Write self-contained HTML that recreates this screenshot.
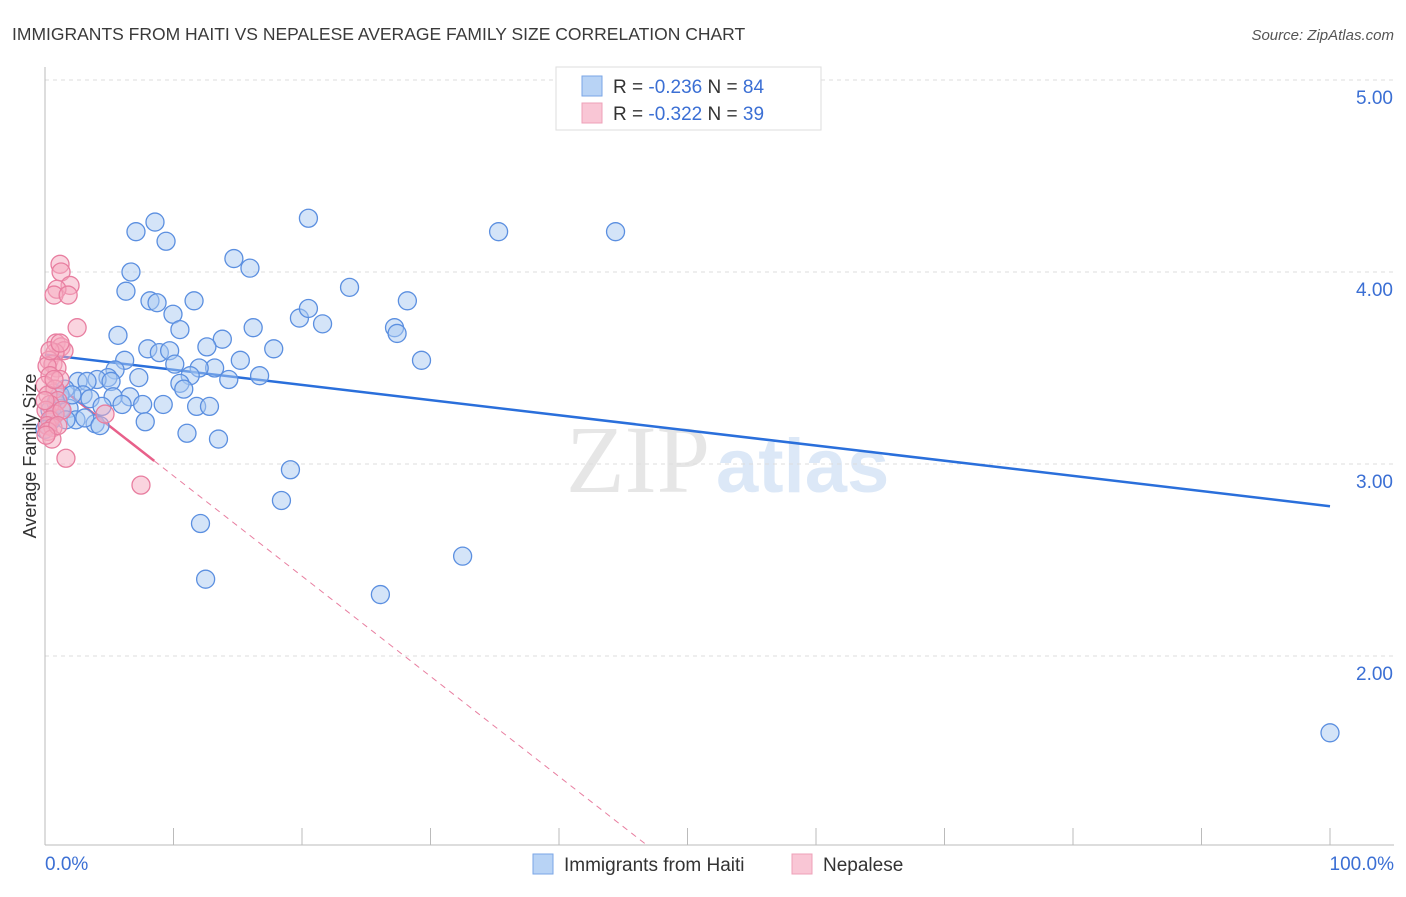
<!DOCTYPE html>
<html><head><meta charset="utf-8"><style>
body{margin:0;background:#fff;font-family:"Liberation Sans",sans-serif}
</style></head><body>
<svg width="1406" height="892" viewBox="0 0 1406 892" id="chart">
<text x="12" y="40" font-size="17.5" fill="#3a3a3a">IMMIGRANTS FROM HAITI VS NEPALESE AVERAGE FAMILY SIZE CORRELATION CHART</text>
<text x="1394" y="40" font-size="15" fill="#555" font-style="italic" text-anchor="end">Source: ZipAtlas.com</text>
<text x="710" y="492" font-size="96" fill="#e6e6e6" text-anchor="end" font-family="Liberation Serif,serif">ZIP</text>
<text x="716" y="492" font-size="76" fill="#dce8f7" font-weight="bold">atlas</text>
<g id="grid"></g><g id="axes"></g><g id="lines"></g><g id="pts"></g>
<text x="36" y="456" font-size="18" fill="#333" text-anchor="middle" transform="rotate(-90 36 456)">Average Family Size</text>
<text x="45" y="870" font-size="19" fill="#3b6fd4">0.0%</text>
<text x="1394" y="870" font-size="19" fill="#3b6fd4" text-anchor="end">100.0%</text>
<g>
<rect x="556" y="67" width="265" height="63" fill="#fff" stroke="#ddd"/>
<rect x="582" y="76" width="20" height="20" fill="#b8d3f5" stroke="#7aa6e6"/>
<rect x="582" y="103" width="20" height="20" fill="#f9c6d5" stroke="#eea0b8"/>
<text x="613" y="93" font-size="19" fill="#333">R = <tspan fill="#3b6fd4">-0.236</tspan>   N = <tspan fill="#3b6fd4">84</tspan></text>
<text x="613" y="120" font-size="19" fill="#333">R = <tspan fill="#3b6fd4">-0.322</tspan>   N = <tspan fill="#3b6fd4">39</tspan></text>
</g>
<g>
<rect x="533" y="854" width="20" height="20" fill="#b8d3f5" stroke="#7aa6e6"/>
<text x="564" y="871" font-size="19" fill="#333">Immigrants from Haiti</text>
<rect x="792" y="854" width="20" height="20" fill="#f9c6d5" stroke="#eea0b8"/>
<text x="823" y="871" font-size="19" fill="#333">Nepalese</text>
</g>
</svg>
<script>
const yTicks=[2,3,4,5];
const yTickLabels=["2.00","3.00","4.00","5.00"];
const haitiX=[8.56,7.08,9.42,20.5,35.3,44.4,14.7,6.69,15.95,6.3,8.17,8.72,11.6,9.96,10.5,5.68,19.8,20.5,21.6,23.7,28.2,27.2,27.4,16.2,13.8,12.6,8.0,8.9,9.7,6.2,17.8,15.2,29.3,10.1,13.2,12.0,5.45,7.3,11.3,16.7,14.3,10.5,4.9,4.05,2.57,3.27,5.14,10.8,1.56,2.96,3.5,6.6,5.3,0.39,0.86,1.25,1.87,4.44,6.0,7.6,9.2,11.8,12.8,0.54,2.41,3.9,3.1,7.8,11.05,13.5,19.1,18.4,12.1,32.5,12.5,26.1,100,1.17,0.23,0.78,2.1,4.28,0,1.63];
const haitiY=[4.26,4.21,4.16,4.28,4.21,4.21,4.07,4.0,4.02,3.9,3.85,3.84,3.85,3.78,3.7,3.67,3.76,3.81,3.73,3.92,3.85,3.71,3.68,3.71,3.65,3.61,3.6,3.58,3.59,3.54,3.6,3.54,3.54,3.52,3.5,3.5,3.49,3.45,3.46,3.46,3.44,3.42,3.45,3.44,3.43,3.43,3.43,3.39,3.39,3.36,3.34,3.35,3.35,3.28,3.32,3.29,3.29,3.3,3.31,3.31,3.31,3.3,3.3,3.23,3.23,3.21,3.24,3.22,3.16,3.13,2.97,2.81,2.69,2.52,2.4,2.32,1.6,3.36,3.2,3.26,3.36,3.2,3.18,3.23];
const nepX=[1.17,1.25,1.95,0.93,0.7,1.8,2.5,0.86,1.25,1.48,0.78,0.31,0.62,0.93,0.16,0.39,1.17,0,0.78,0.23,1.0,0.39,0.08,0.78,0.39,0.16,0.62,0.23,0.54,1.63,7.47,4.67,1.32,0,1.0,0.39,1.17,0.08,0.7];
const nepY=[4.04,4.0,3.93,3.91,3.88,3.88,3.71,3.63,3.61,3.59,3.58,3.54,3.52,3.5,3.51,3.46,3.44,3.41,3.39,3.36,3.33,3.31,3.28,3.26,3.23,3.2,3.19,3.17,3.13,3.03,2.89,3.26,3.28,3.33,3.2,3.59,3.63,3.15,3.44];
const haitiTrend=[3.57,2.78];
const nepTrend=[3.46,-0.0522];
const NS="http://www.w3.org/2000/svg";
const sx=v=>45+v*12.85, sy=v=>80+(5-v)*192;
function mk(t,a,p){const e=document.createElementNS(NS,t);for(const k in a)e.setAttribute(k,a[k]);document.getElementById(p).appendChild(e);return e;}
yTicks.forEach((t,i)=>{
 const g=mk('line',{x1:45,x2:1394,y1:sy(t),y2:sy(t),stroke:'#ddd','stroke-dasharray':'4 4'},'grid');
 
 
 const l=mk('text',{x:1393,y:sy(t)+24,'font-size':19,fill:'#3b6fd4','text-anchor':'end'},'grid');
 l.textContent=yTickLabels[i];
 
 
});
mk('line',{x1:45,x2:45,y1:67,y2:845,stroke:'#bbb'},'axes');
mk('line',{x1:45,x2:1394,y1:845,y2:845,stroke:'#bbb'},'axes');
for(let i=0;i<=10;i++){const t=mk('line',{x1:sx(i*10),x2:sx(i*10),y1:828,y2:845,stroke:'#bbb'},'axes');
 
 }
function dot(x,y,f,s,n){const c=mk('circle',{cx:sx(x),cy:sy(y),r:9,fill:f,'fill-opacity':0.5,stroke:s,'stroke-width':1.3},'pts');
 
 }
haitiX.forEach((x,i)=>dot(x,haitiY[i],'#a9c9f2','#5b8fe0','haiti-point'));
nepX.forEach((x,i)=>dot(x,nepY[i],'#f5a9c0','#e87ea0','nepalese-point'));
const bl=mk('line',{x1:sx(0),y1:sy(haitiTrend[0]),x2:sx(100),y2:sy(haitiTrend[1]),stroke:'#2a6fdb','stroke-width':2.5},'lines');


const pv=x=>nepTrend[0]+nepTrend[1]*x;
const xEnd=(1.02-nepTrend[0])/nepTrend[1];
const pd=mk('line',{x1:sx(8.5),y1:sy(pv(8.5)),x2:sx(xEnd),y2:sy(pv(xEnd)),stroke:'#e87ea0','stroke-width':1,'stroke-dasharray':'6 5'},'lines');


const ps=mk('line',{x1:sx(0),y1:sy(pv(0)),x2:sx(8.5),y2:sy(pv(8.5)),stroke:'#e8608a','stroke-width':2.5},'lines');


</script>
</body></html>
